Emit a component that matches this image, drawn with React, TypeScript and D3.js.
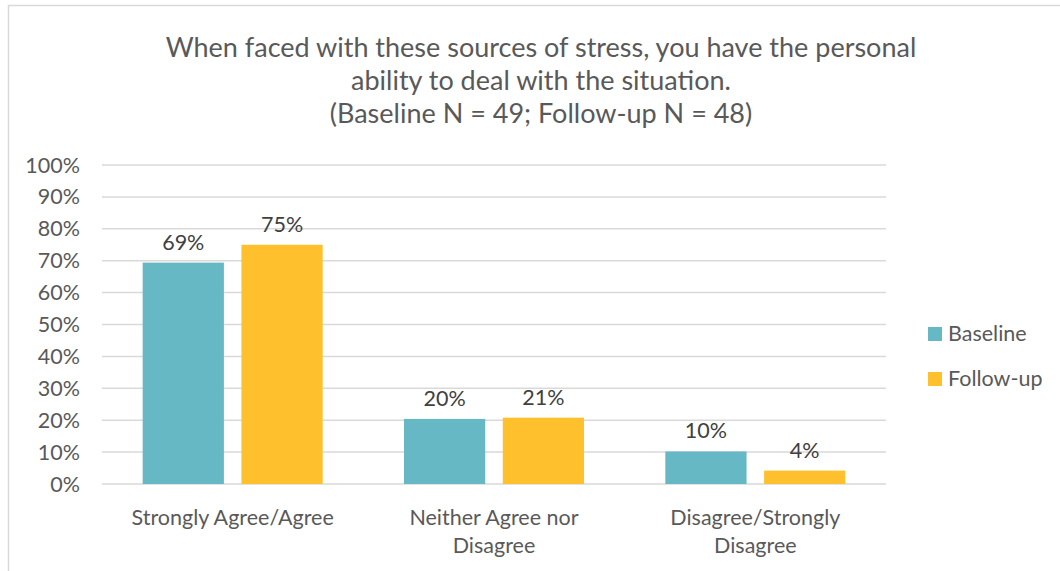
import React from "react";
import * as d3 from "d3";

const titleLines = [
  "When faced with these sources of stress, you have the personal",
  "ability to deal with the situation.",
  "(Baseline N = 49; Follow-up N = 48)",
];
const categories = [
  ["Strongly Agree/Agree"],
  ["Neither Agree nor", "Disagree"],
  ["Disagree/Strongly", "Disagree"],
];
const seriesNames = ["Baseline", "Follow-up"];
const baseline = [0.694, 0.204, 0.102];
const followUp = [0.75, 0.208, 0.042];
const yTicks = [0, 0.1, 0.2, 0.3, 0.4, 0.5, 0.6, 0.7, 0.8, 0.9, 1.0];

const colors = ["#66B8C4", "#FEC02D"];
const FONT = "Lato, 'Open Sans', sans-serif";

export default function App() {
  const W = 1060, H = 571;
  const left = 102, right = 886, top = 165, bottom = 484;
  const x0 = d3.scaleBand<number>().domain([0, 1, 2]).range([left, right]).padding(0);
  const groupW = 180;
  const x1 = d3.scaleBand<number>().domain([0, 1]).range([0, groupW]).paddingInner(16 / 90);
  const y = d3.scaleLinear().domain([0, 1]).range([bottom, top]);
  const series = [baseline, followUp];
  const fmt = d3.format(".0%");
  const fs = 21.5;

  return (
    <svg width={W} height={H} style={{ position: "absolute", left: 0, top: 0, background: "#fff" }}>
      <rect x={8.5} y={5.5} width={1100} height={700} fill="#fff" stroke="#D9D9D9" strokeWidth={1.5} />
      {titleLines.map((t, i) => (
        <text key={i} x={541} y={57 + i * 33} textAnchor="middle" fontFamily={FONT} fontSize={27} fill="#595959">
          {t}
        </text>
      ))}
      {yTicks.map((t) => (
        <g key={t}>
          <line x1={left} x2={right} y1={y(t)} y2={y(t)} stroke="#D9D9D9" strokeWidth={1.5} />
          <text x={80} y={y(t) + 7.5} textAnchor="end" fontFamily={FONT} fontSize={fs} fill="#595959">
            {fmt(t)}
          </text>
        </g>
      ))}
      {categories.map((_, ci) =>
        series.map((s, si) => {
          const off = (x0.bandwidth() - groupW) / 2;
          const bx = (x0(ci) as number) + off + (x1(si) as number);
          const bw = x1.bandwidth();
          return (
            <g key={`${ci}-${si}`}>
              <rect x={bx} y={y(s[ci])} width={bw} height={bottom - y(s[ci])} fill={colors[si]} />
              <text x={bx + bw / 2} y={y(s[ci]) - 13} textAnchor="middle" fontFamily={FONT} fontSize={fs} fill="#404040">
                {fmt(s[ci])}
              </text>
            </g>
          );
        })
      )}
      {categories.map((lines, ci) =>
        lines.map((l, li) => (
          <text
            key={`${ci}-${li}`}
            x={(x0(ci) as number) + x0.bandwidth() / 2}
            y={525 + li * 28}
            textAnchor="middle"
            fontFamily={FONT}
            fontSize={fs}
            fill="#595959"
          >
            {l}
          </text>
        ))
      )}
      {seriesNames.map((n, i) => (
        <g key={n}>
          <rect x={928} y={327 + i * 45} width={14} height={14} fill={colors[i]} />
          <text x={948} y={341 + i * 45} fontFamily={FONT} fontSize={fs} fill="#595959">
            {n}
          </text>
        </g>
      ))}
    </svg>
  );
}
